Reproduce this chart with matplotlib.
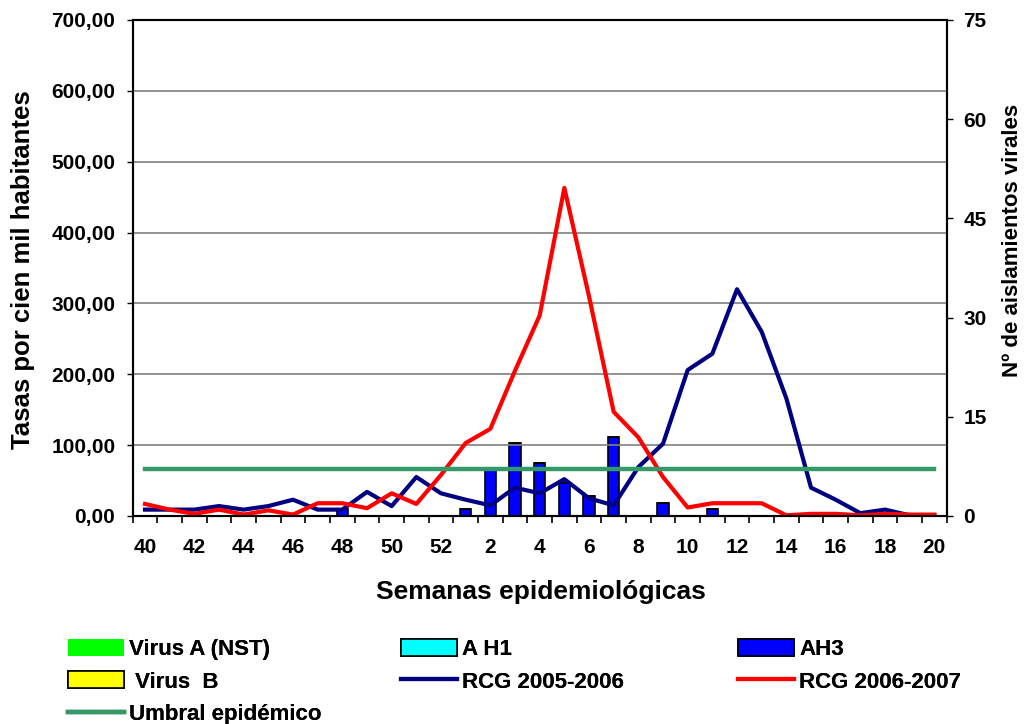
import numpy as np
import matplotlib
matplotlib.use("Agg")
import matplotlib.pyplot as plt

# semanas 40..52 y 1..20
semanas = list(range(40, 53)) + list(range(1, 21))
etiquetas = [str(s) if s % 2 == 0 else "" for s in semanas]

# tasas por cien mil habitantes
rcg_2005_2006 = [9, 9, 9, 14, 9, 14, 23, 9, 9, 34, 14, 55, 32, 23, 15, 40, 32,
                 52, 25, 15, 69, 102, 206, 229, 320, 260, 166, 40, 23, 4, 9, 1, 1]
rcg_2006_2007 = [17, 9, 3, 9, 2, 8, 2, 18, 18, 11, 32, 17, 58, 103, 123, 205, 283,
                 463, 310, 147, 111, 55, 12, 18, 18, 18, 1, 3, 3, 1, 3, 2, 2]
umbral = [66] * len(semanas)

# aislamientos virales
virus_a_nst = [0] * len(semanas)
a_h1 = [0] * len(semanas)
virus_b = [0] * len(semanas)
ah3 = [0, 0, 0, 0, 0, 0, 0, 0, 1, 0, 0, 0, 0, 1, 7, 11, 8,
       5, 3, 12, 0, 2, 0, 1, 0, 0, 0, 0, 0, 0, 0, 0, 0]

plt.rcParams['font.family'] = ['Liberation Sans', 'DejaVu Sans']
plt.rcParams['font.weight'] = 'bold'

fig = plt.figure(figsize=(10.26, 7.24), dpi=100)
ax = fig.add_axes([0.1293, 0.2873, 0.7934, 0.6851])
ax2 = ax.twinx()
x = np.arange(len(semanas))

w = 0.45
b1 = ax2.bar(x, virus_a_nst, w, color='#00FF00', edgecolor='none', label='Virus A (NST)')
b2 = ax2.bar(x, a_h1, w, bottom=virus_a_nst, color='#00FFFF', edgecolor='black', lw=1.2, label='A H1')
base = np.array(virus_a_nst) + np.array(a_h1)
b3 = ax2.bar(x, ah3, w, bottom=base, color='#0000FF', edgecolor='black', lw=1.2, label='AH3')
base = base + np.array(ah3)
b4 = ax2.bar(x, virus_b, w, bottom=base, color='#FFFF00', edgecolor='black', lw=1.2, label=' Virus  B')

l1, = ax.plot(x, rcg_2005_2006, color='#000080', lw=3, label='RCG 2005-2006')
l2, = ax.plot(x, rcg_2006_2007, color='#FF0000', lw=3, label='RCG 2006-2007')
l3, = ax.plot(x, umbral, color='#339966', lw=3.2, label='Umbral epidémico')

ax.set_zorder(ax2.get_zorder() + 1)
ax.patch.set_visible(False)

ax.set_xlim(-0.5, len(semanas) - 0.5)
ax.set_ylim(0, 700)
ax2.set_ylim(0, 75)
ax.set_yticks(np.arange(0, 701, 100))
ax.set_yticklabels(["{:.2f}".format(v).replace('.', ',') for v in range(0, 701, 100)])
ax2.set_yticks(np.arange(0, 76, 15))
ax.yaxis.grid(True, color='#808080', lw=1.2)
ax.set_axisbelow(True)

ax.set_xticks(np.arange(-0.5, len(semanas), 1))
ax.set_xticklabels([])
ax.set_xticks(x, minor=True)
ax.set_xticklabels(etiquetas, minor=True)
ax.tick_params(axis='x', which='major', length=5, width=1.2, direction='out')
ax.tick_params(axis='x', which='minor', length=0, pad=16, labelsize=15)
ax.tick_params(axis='y', length=4.5, width=1, pad=8, labelsize=15)
ax2.tick_params(axis='y', length=4, width=1, pad=8, labelsize=15)
for a in (ax, ax2):
    for s in a.spines.values():
        s.set_linewidth(1.5)

fig.text(23 / 1026, 0.627, 'Tasas por cien mil habitantes', rotation=90,
         ha='center', va='center', fontsize=18.5, fontweight='bold')
fig.text(1012 / 1026, 0.668, 'Nº de aislamientos virales', rotation=90,
         ha='center', va='center', fontsize=16, fontweight='bold')
fig.text(541 / 1026, 0.182, 'Semanas epidemiológicas', ha='center', va='center',
         fontsize=19, fontweight='bold')

# leyenda en tres columnas de ancho fijo, como en el original
columnas = [([b1, b4, l3], 68), ([b2, l1], 401), ([b3, l2], 738)]
for hs, px in columnas:
    leg = fig.legend(handles=hs, loc='upper left', bbox_to_anchor=(px / 1026, 1 - 639 / 724),
                     frameon=False, handlelength=2.5, handleheight=0.8, handletextpad=0.25,
                     labelspacing=0.5, borderpad=0, borderaxespad=0,
                     prop={'weight': 'bold', 'size': 16})
    fig.add_artist(leg)

fig.savefig('out.png', dpi=100)
